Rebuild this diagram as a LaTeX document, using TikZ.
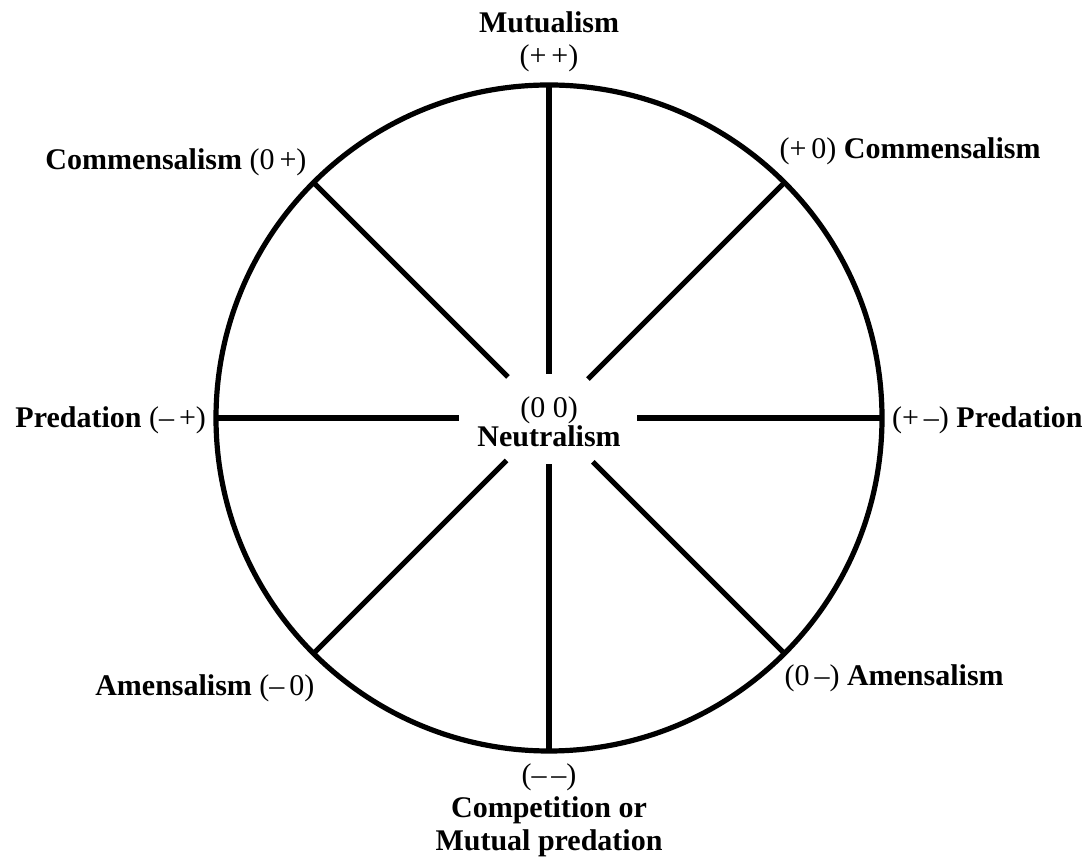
\documentclass[tikz,border=0pt]{standalone}
\usepackage{fontspec}
\setmainfont{Liberation Serif}
\usetikzlibrary{positioning}

\begin{document}
\begin{tikzpicture}[x=0.5pt,y=0.5pt,
  ring/.style={circle,draw,line width=2.6pt,minimum size=333pt,inner sep=0pt,outer sep=0pt},
  spoke/.style={line width=2.6pt},
  tag/.style={font=\fontsize{15}{16.5}\selectfont,align=center,inner sep=3.33pt}
]
\useasboundingbox (0,0) rectangle (1091,861);
\node[ring] (ring) at (549,443) {};
\coordinate (hub) at (549,443);
\foreach \a/\r in {90/44,45/55,0/88,315/62,270/46,225/60,180/90,135/58}
  \draw[spoke] (ring.\a) -- ([shift={(\a:\r)}]hub);
\node[tag,above=3pt of ring.north] (mutual) {\textbf{Mutualism}\\(+\,+)};
\node[tag,anchor=south west,xshift=-6pt,yshift=5.5pt] (commr) at (ring.45) {(+\,0) \textbf{Commensalism}};
\node[tag,anchor=south east] (comml) at (ring.135) {\textbf{Commensalism} (0\,+)};
\node[tag,anchor=east,xshift=-1.5pt,yshift=-1pt] (predl) at (ring.west) {\textbf{Predation} (–\,+)};
\node[tag,anchor=west,xshift=1.5pt,yshift=-1pt] (predr) at (ring.east) {(+\,–) \textbf{Predation}};
\node[tag,anchor=north east,xshift=4pt,yshift=-7pt] (amenl) at (ring.225) {\textbf{Amensalism} (–\,0)};
\node[tag,anchor=north west,xshift=-3.5pt,yshift=-2pt] (amenr) at (ring.315) {(0\,–) \textbf{Amensalism}};
\node[tag,below=3pt of ring.south] (compet) {(–\,–)\\\textbf{Competition or}\\\textbf{Mutual predation}};
\node[tag,font=\fontsize{15}{14.5}\selectfont] (neutral) at (549,439) {(0 0)\\\textbf{Neutralism}};
\end{tikzpicture}
\end{document}
